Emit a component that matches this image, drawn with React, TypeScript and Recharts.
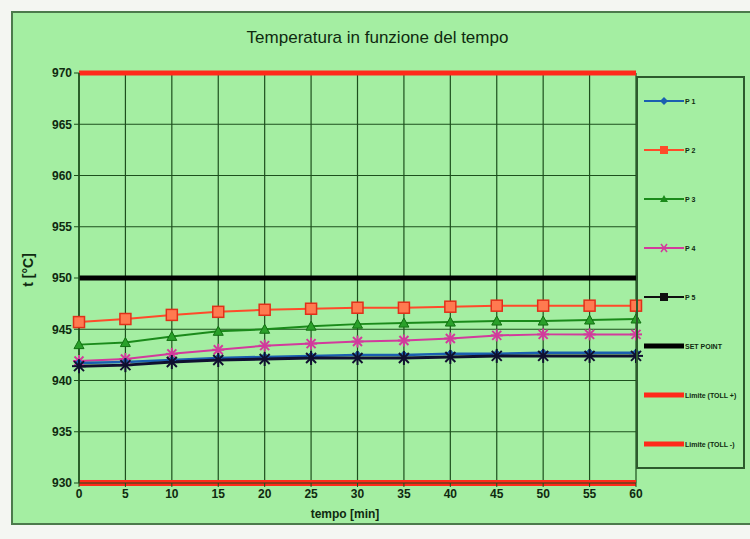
import React from "react";
import {
  CartesianGrid,
  Line,
  LineChart,
  XAxis,
  YAxis,
} from "recharts";

const TIME = [0, 5, 10, 15, 20, 25, 30, 35, 40, 45, 50, 55, 60];
const P1 = [941.7, 941.8, 942.0, 942.2, 942.3, 942.4, 942.5, 942.5, 942.6, 942.6, 942.7, 942.7, 942.7];
const P2 = [945.7, 946.0, 946.4, 946.7, 946.9, 947.0, 947.1, 947.1, 947.2, 947.3, 947.3, 947.3, 947.3];
const P3 = [943.5, 943.7, 944.3, 944.8, 945.0, 945.3, 945.5, 945.6, 945.7, 945.8, 945.8, 945.9, 946.0];
const P4 = [941.9, 942.1, 942.6, 943.0, 943.4, 943.6, 943.8, 943.9, 944.1, 944.4, 944.5, 944.5, 944.5];
const P5 = [941.4, 941.5, 941.8, 942.0, 942.1, 942.2, 942.2, 942.2, 942.3, 942.4, 942.4, 942.4, 942.4];
const SET_POINT = [950, 950, 950, 950, 950, 950, 950, 950, 950, 950, 950, 950, 950];
const TOLL_PLUS = [970, 970, 970, 970, 970, 970, 970, 970, 970, 970, 970, 970, 970];
const TOLL_MINUS = [930, 930, 930, 930, 930, 930, 930, 930, 930, 930, 930, 930, 930];

const Y_TICKS = [930, 935, 940, 945, 950, 955, 960, 965, 970];
const X_TICKS = [0, 5, 10, 15, 20, 25, 30, 35, 40, 45, 50, 55, 60];

const data = TIME.map((t, i) => ({
  t,
  p1: P1[i],
  p2: P2[i],
  p3: P3[i],
  p4: P4[i],
  p5: P5[i],
  sp: SET_POINT[i],
  tp: TOLL_PLUS[i],
  tm: TOLL_MINUS[i],
}));

const GRID = "#1d4f1d";
const BG = "#a4eea2";
const INK = "#0f2a10";

type DotProps = { cx?: number; cy?: number };

const Diamond = ({ cx = 0, cy = 0 }: DotProps) => (
  <path d={`M${cx},${cy - 4}L${cx + 4},${cy}L${cx},${cy + 4}L${cx - 4},${cy}Z`} fill="#1a5fb0" stroke="#1a5fb0" />
);
const Square = ({ cx = 0, cy = 0 }: DotProps) => (
  <rect x={cx - 5.5} y={cy - 5.5} width={11} height={11} fill="#ff7a50" stroke="#e0301a" strokeWidth={1.5} />
);
const Triangle = ({ cx = 0, cy = 0 }: DotProps) => (
  <path d={`M${cx},${cy - 5}L${cx + 5},${cy + 4}L${cx - 5},${cy + 4}Z`} fill="#2aa02a" stroke="#117011" />
);
const Star = ({ cx = 0, cy = 0 }: DotProps) => (
  <g stroke="#d23a9c" strokeWidth={2}>
    <line x1={cx - 6} y1={cy} x2={cx + 6} y2={cy} />
    <line x1={cx} y1={cy - 6} x2={cx} y2={cy + 6} />
    <line x1={cx - 4.5} y1={cy - 4.5} x2={cx + 4.5} y2={cy + 4.5} />
    <line x1={cx - 4.5} y1={cy + 4.5} x2={cx + 4.5} y2={cy - 4.5} />
  </g>
);
const Asterisk = ({ cx = 0, cy = 0 }: DotProps) => (
  <g stroke="#101030" strokeWidth={2}>
    <line x1={cx - 7} y1={cy} x2={cx + 7} y2={cy} />
    <line x1={cx} y1={cy - 7} x2={cx} y2={cy + 7} />
    <line x1={cx - 5} y1={cy - 5} x2={cx + 5} y2={cy + 5} />
    <line x1={cx - 5} y1={cy + 5} x2={cx + 5} y2={cy - 5} />
  </g>
);

const LEGEND = [
  { label: "P 1", color: "#1a5fb0", width: 2, marker: "diamond" },
  { label: "P 2", color: "#ff4a2a", width: 2, marker: "square" },
  { label: "P 3", color: "#1a8a1a", width: 2, marker: "triangle" },
  { label: "P 4", color: "#d23a9c", width: 2, marker: "star" },
  { label: "P 5", color: "#101010", width: 2, marker: "square" },
  { label: "SET POINT", color: "#000000", width: 5, marker: "" },
  { label: "Limite (TOLL +)", color: "#ff2a1a", width: 5, marker: "" },
  { label: "Limite (TOLL -)", color: "#ff2a1a", width: 5, marker: "" },
];

function LegendMarker({ kind, color }: { kind: string; color: string }) {
  if (kind === "diamond") return <path d="M20,1L24,5L20,9L16,5Z" fill={color} />;
  if (kind === "square") return <rect x={16} y={1} width={8} height={8} fill={color} />;
  if (kind === "triangle") return <path d="M20,1L24,8L16,8Z" fill={color} />;
  if (kind === "star")
    return (
      <g stroke={color} strokeWidth={1.5}>
        <line x1={15} y1={5} x2={25} y2={5} />
        <line x1={17} y1={1} x2={23} y2={9} />
        <line x1={17} y1={9} x2={23} y2={1} />
      </g>
    );
  return null;
}

export default function App() {
  return (
    <div style={{ position: "absolute", left: 0, top: 0, width: 750, height: 539, background: "#f4f6f2", fontFamily: "Arial, 'Liberation Sans', sans-serif" }}>
      <div
        style={{
          position: "absolute",
          left: 11,
          top: 11,
          width: 745,
          height: 514,
          background: BG,
          border: "2px solid #4c7a4c",
          boxSizing: "border-box",
        }}
      />
      <div style={{ position: "absolute", left: 0, top: 28, width: 755, textAlign: "center", fontSize: 17, color: INK }}>
        Temperatura in funzione del tempo
      </div>
      <div
        style={{
          position: "absolute",
          left: 28,
          top: 270,
          transform: "translate(-50%, -50%) rotate(-90deg)",
          fontSize: 14,
          fontWeight: "bold",
          color: INK,
          whiteSpace: "nowrap",
        }}
      >
        t [°C]
      </div>
      <div style={{ position: "absolute", left: 0, top: 507, width: 690, textAlign: "center", fontSize: 12, fontWeight: "bold", color: INK }}>
        tempo [min]
      </div>
      <div style={{ position: "absolute", left: 0, top: 0 }}>
        <LineChart width={750} height={539} data={data} margin={{ top: 73, right: 114, left: 39, bottom: 27 }}>
          <CartesianGrid stroke={GRID} strokeWidth={1.2} />
          <XAxis
            dataKey="t"
            type="number"
            domain={[0, 60]}
            ticks={X_TICKS}
            height={29}
            tick={{ fontSize: 12, fill: INK, fontWeight: "bold" }}
            tickLine={{ stroke: GRID }}
            axisLine={{ stroke: GRID }}
            tickSize={4}
          />
          <YAxis
            domain={[930, 970]}
            ticks={Y_TICKS}
            width={40}
            tick={{ fontSize: 12, fill: INK, fontWeight: "bold" }}
            tickLine={{ stroke: GRID }}
            axisLine={{ stroke: GRID, strokeWidth: 1.5 }}
            tickSize={5}
          />
          <Line dataKey="tp" stroke="#ff2a1a" strokeWidth={5} dot={false} isAnimationActive={false} />
          <Line dataKey="tm" stroke="#ff2a1a" strokeWidth={6} dot={false} isAnimationActive={false} />
          <Line dataKey="sp" stroke="#000000" strokeWidth={5} dot={false} isAnimationActive={false} />
          <Line dataKey="p2" stroke="#ff4a2a" strokeWidth={2} dot={<Square />} isAnimationActive={false} />
          <Line dataKey="p3" stroke="#1a8a1a" strokeWidth={2} dot={<Triangle />} isAnimationActive={false} />
          <Line dataKey="p4" stroke="#d23a9c" strokeWidth={2} dot={<Star />} isAnimationActive={false} />
          <Line dataKey="p1" stroke="#1a5fb0" strokeWidth={2.5} dot={<Diamond />} isAnimationActive={false} />
          <Line dataKey="p5" stroke="#101030" strokeWidth={3} dot={<Asterisk />} isAnimationActive={false} />
        </LineChart>
      </div>
      <div
        style={{
          position: "absolute",
          left: 636,
          top: 76,
          width: 109,
          height: 393,
          border: "2px solid #2d5a2d",
          boxSizing: "border-box",
        }}
      >
        {LEGEND.map((e, i) => (
          <div key={e.label} style={{ position: "absolute", left: 6, top: 18 + i * 49, display: "flex", alignItems: "center", whiteSpace: "nowrap" }}>
            <svg width={40} height={10} style={{ display: "block" }}>
              <line x1={0} y1={5} x2={40} y2={5} stroke={e.color} strokeWidth={e.width} />
              <LegendMarker kind={e.marker} color={e.color} />
            </svg>
            <span style={{ fontSize: 7, fontWeight: "bold", color: INK, marginLeft: 1 }}>{e.label}</span>
          </div>
        ))}
      </div>
    </div>
  );
}
